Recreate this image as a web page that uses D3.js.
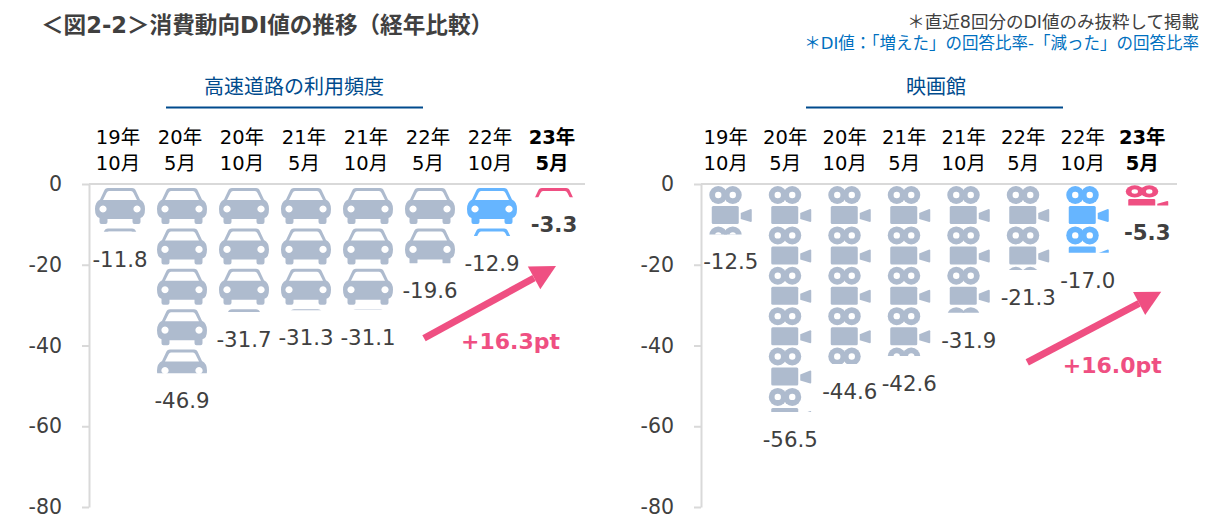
<!DOCTYPE html>
<html>
<head>
<meta charset="utf-8">
<script src="https://cdn.jsdelivr.net/npm/d3@7"></script>
<style>
  body { margin: 0; background: #fff; }
  text { font-family: "DejaVu Sans", "Noto Sans CJK JP", sans-serif; }
</style>
</head>
<body>
<div id="chart"></div>
<script>
// data
const yearLabels = ["19年", "20年", "20年", "21年", "21年", "22年", "22年", "23年"];
const monthLabels = ["10月", "5月", "10月", "5月", "10月", "5月", "10月", "5月"];
const highwayValues = [-11.8, -46.9, -31.7, -31.3, -31.1, -19.6, -12.9, -3.3];
const cinemaValues = [-12.5, -56.5, -44.6, -42.6, -31.9, -21.3, -17.0, -5.3];
const yTicks = [0, -20, -40, -60, -80];
const unitPerIcon = 10;

const width = 1214, height = 532;
const grey = "#aebbce", blue = "#66b5ff", pink = "#ef4f82";

const svg = d3.select("#chart").append("svg")
    .attr("width", width)
    .attr("height", height)
    .style("display", "block");

// icons, origin = centre of the band / top of the tile
const defs = svg.append("defs");
defs.append("path").attr("id", "car")
    .attr("fill-rule", "evenodd")
    .attr("d", "M-12,4 Q-15,4 -16,7 L-20,15.5 Q-25,18 -25,25 Q-25,33 -20.5,34 V38 Q-20.5,40 -18.5,40 H-14.5 Q-12.5,40 -12.5,38 V35 H12.5 V38 Q12.5,40 14.5,40 H18.5 Q20.5,40 20.5,38 V34 Q25,33 25,25 Q25,18 20,15.5 L16,7 Q15,4 12,4 Z"
        + " M-11,7 H11 Q12.5,7 13.5,9 L17,16 H-17 L-13.5,9 Q-12.5,7 -11,7 Z"
        + " M-17,21.4 a3.6,3.6 0 1,0 0.01,0 Z M17,21.4 a3.6,3.6 0 1,0 0.01,0 Z");
const camera = defs.append("g").attr("id", "camera");
camera.append("circle").attr("cx", -12.5).attr("cy", 11).attr("r", 9);
camera.append("circle").attr("cx", 2).attr("cy", 11).attr("r", 9);
camera.append("circle").attr("cx", -12.5).attr("cy", 11).attr("r", 3.2).attr("fill", "#fff");
camera.append("circle").attr("cx", 2).attr("cy", 11).attr("r", 3.2).attr("fill", "#fff");
camera.append("rect").attr("x", -19).attr("y", 22).attr("width", 27).attr("height", 18).attr("rx", 1.5);
camera.append("path").attr("d", "M10,29 L20,25 Q21,25 21,26 V37 Q21,38 20,38 L10,35 Z");

// title + notes
svg.append("text").attr("x", 41).attr("y", 33)
    .attr("font-size", 22.6).attr("font-weight", "bold").attr("fill", "#404040")
    .text("＜図2-2＞消費動向DI値の推移（経年比較）");
svg.append("text").attr("x", 1199).attr("y", 28).attr("text-anchor", "end")
    .attr("font-size", 17.5).attr("fill", "#404040")
    .text("＊直近8回分のDI値のみ抜粋して掲載");
svg.append("text").attr("x", 1199).attr("y", 49).attr("text-anchor", "end")
    .attr("font-size", 16.5).attr("fill", "#0070c0")
    .text("＊DI値：「増えた」の回答比率-「減った」の回答比率");

function drawPanel(o) {
    const y = d3.scaleLinear().domain([0, -80]).range([184, 507]);
    const x = d3.scaleBand().domain(d3.range(o.values.length)).range([o.left, o.right]);
    const g = svg.append("g");

    // panel heading
    g.append("text").attr("x", (o.ruleFrom + o.ruleTo) / 2 + o.titleShift).attr("y", 94)
        .attr("text-anchor", "middle").attr("font-size", 20).attr("fill", "#004b8d")
        .text(o.title);
    g.append("line").attr("x1", o.ruleFrom).attr("x2", o.ruleTo).attr("y1", 107.5).attr("y2", 107.5)
        .attr("stroke", "#004b8d").attr("stroke-width", 2);

    // axes
    const axis = g.append("g").attr("transform", "translate(" + o.left + ",0)")
        .call(d3.axisLeft(y).tickValues(yTicks).tickSize(7).tickPadding(20).tickSizeOuter(0)
            .tickFormat(d => String(d)));
    axis.select(".domain").attr("stroke", "#d9d9d9").attr("stroke-width", 2);
    axis.selectAll(".tick line").attr("stroke", "#d9d9d9").attr("stroke-width", 2);
    axis.selectAll(".tick text").attr("font-size", 20.5).attr("fill", "#404040")
        .attr("font-family", "'DejaVu Sans'");
    g.append("line").attr("x1", o.left).attr("x2", o.right).attr("y1", y(0)).attr("y2", y(0))
        .attr("stroke", "#d9d9d9").attr("stroke-width", 2);

    // header labels
    const cx = i => x(i) + x.bandwidth() / 2;
    const header = g.selectAll(".hdr").data(o.values).enter().append("text")
        .attr("class", "hdr")
        .attr("text-anchor", "middle")
        .attr("font-size", 19.5)
        .attr("fill", "#000")
        .attr("font-weight", (d, i) => i === o.values.length - 1 ? "bold" : "normal");
    header.append("tspan").attr("x", (d, i) => cx(i) - o.hdrShift).attr("y", 144).text((d, i) => yearLabels[i]);
    header.append("tspan").attr("x", (d, i) => cx(i) - o.hdrShift).attr("y", 170).text((d, i) => monthLabels[i]);

    // pictogram columns, one tile = 10 points, clipped at the value
    const tile = y(-unitPerIcon) - y(0);
    o.values.forEach(function (v, i) {
        const clipId = o.icon + "-clip-" + i;
        defs.append("clipPath").attr("id", clipId).append("rect")
            .attr("x", x(i)).attr("y", y(0) + 1)
            .attr("width", x.bandwidth()).attr("height", y(v) - y(0) - 1);
        const col = i === 7 ? pink : i === 6 ? blue : grey;
        // the newest camera is squashed in the original
        const squash = i === 7 ? o.lastSquash : 1;
        g.append("g").attr("clip-path", "url(#" + clipId + ")").attr("fill", col)
            .selectAll("use").data(d3.range(Math.ceil(-v / unitPerIcon))).enter().append("use")
            .attr("href", "#" + o.icon)
            .attr("transform", n => "translate(" + cx(i) + "," + (y(0) + n * tile) + ") scale(1," + squash + ")");
    });

    // value labels
    g.selectAll(".val").data(o.values).enter().append("text")
        .attr("class", "val")
        .attr("x", (d, i) => cx(i))
        .attr("y", d => y(d) + 35)
        .attr("text-anchor", "middle")
        .attr("font-size", 21.3)
        .attr("fill", "#404040")
        .attr("font-weight", (d, i) => i === 7 ? "bold" : "normal")
        .text(d => d.toFixed(1));

    // change arrow
    const x1 = cx(o.arrow[0]) + o.arrow[1], y1 = y(o.arrow[2]);
    const x2 = cx(o.arrow[3]) + o.arrow[4], y2 = y(o.arrow[5]);
    const len = Math.hypot(x2 - x1, y2 - y1), ux = (x2 - x1) / len, uy = (y2 - y1) / len;
    const hx = x2 - ux * 25, hy = y2 - uy * 25;
    g.append("line").attr("x1", x1).attr("y1", y1).attr("x2", hx).attr("y2", hy)
        .attr("stroke", pink).attr("stroke-width", 7);
    g.append("polygon")
        .attr("points", [[x2, y2], [hx - uy * 13, hy + ux * 13], [hx + uy * 13, hy - ux * 13]].join(" "))
        .attr("fill", pink);
    g.append("text").attr("x", cx(o.delta[0]) + o.delta[1]).attr("y", y(o.delta[2]))
        .attr("text-anchor", "middle").attr("font-size", 22).attr("font-weight", "bold")
        .attr("fill", pink).text(o.deltaText);
}

drawPanel({
    title: "高速道路の利用頻度", icon: "car", values: highwayValues,
    left: 89, right: 585, ruleFrom: 166, ruleTo: 423, hdrShift: 2, titleShift: -0.5, lastSquash: 1,
    arrow: [5, -6, -38.2, 7, 2, -20.3],
    delta: [6, 18.5, -40.9], deltaText: "+16.3pt"
});
drawPanel({
    title: "映画館", icon: "camera", values: cinemaValues,
    left: 701, right: 1177, ruleFrom: 806, ruleTo: 1063, hdrShift: 5, titleShift: 1.5, lastSquash: 0.68,
    arrow: [5, -1, -44.2, 7, 14, -26.7],
    delta: [6, 24.5, -46.9], deltaText: "+16.0pt"
});
</script>
</body>
</html>
